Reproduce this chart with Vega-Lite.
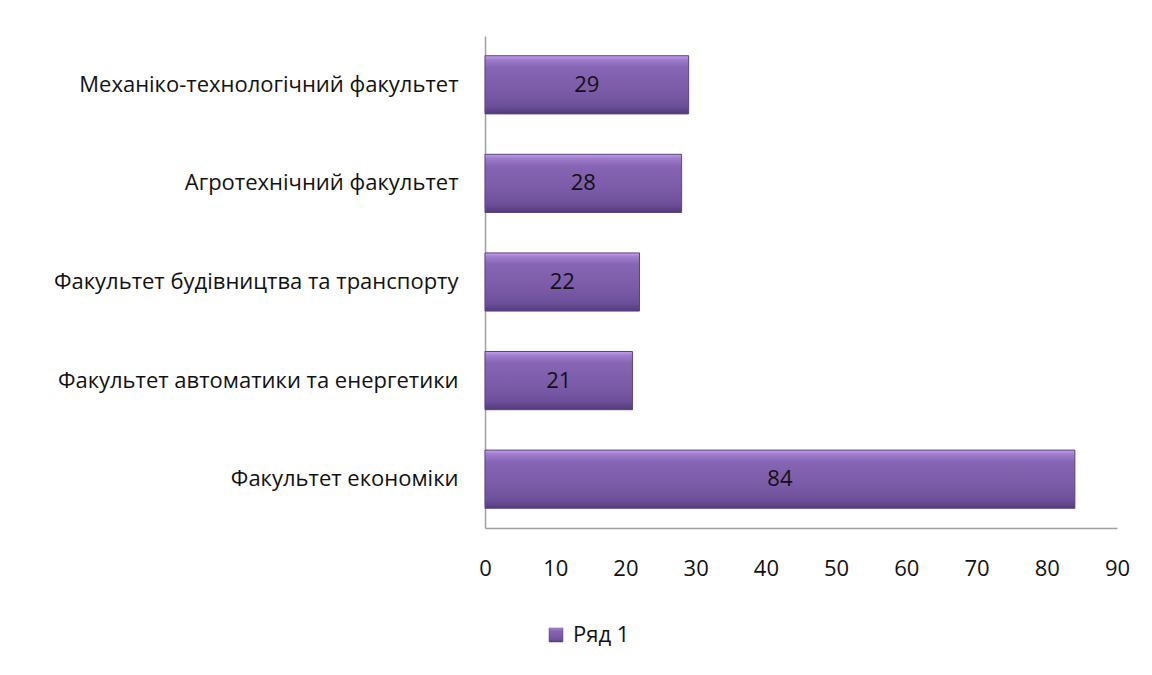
{
  "$schema": "https://vega.github.io/schema/vega-lite/v6.json",
  "autosize": "none",
  "padding": {"left": 485, "top": 36, "right": 35, "bottom": 147},
  "width": 632,
  "height": 492,
  "background": "white",
  "data": {
    "values": [
      {"faculty": "Механіко-технологічний факультет", "value": 29, "series": "Ряд 1"},
      {"faculty": "Агротехнічний факультет", "value": 28, "series": "Ряд 1"},
      {"faculty": "Факультет будівництва та транспорту", "value": 22, "series": "Ряд 1"},
      {"faculty": "Факультет автоматики та енергетики", "value": 21, "series": "Ряд 1"},
      {"faculty": "Факультет економіки", "value": 84, "series": "Ряд 1"}
    ]
  },
  "config": {
    "view": {"stroke": null},
    "font": "Open Sans"
  },
  "encoding": {
    "y": {
      "field": "faculty",
      "type": "nominal",
      "sort": null,
      "scale": {"paddingInner": 0.41, "paddingOuter": 0.2},
      "axis": {
        "title": null,
        "ticks": false,
        "labelFontSize": 22,
        "labelFont": "Open Sans",
        "labelColor": "#111111",
        "labelPadding": 27,
        "labelLimit": 600,
        "domainColor": "#a0a0a0",
        "domainWidth": 1.5
      }
    }
  },
  "layer": [
    {
      "mark": {
        "type": "bar",
        "strokeWidth": 1,
        "fill": {
          "gradient": "linear",
          "x1": 0, "y1": 0, "x2": 0, "y2": 1,
          "stops": [
            {"offset": 0, "color": "#c3a0ec"},
            {"offset": 0.07, "color": "#a07ccd"},
            {"offset": 0.2, "color": "#8665b4"},
            {"offset": 0.6, "color": "#7b5ba8"},
            {"offset": 0.86, "color": "#6c4f99"},
            {"offset": 1, "color": "#533b7c"}
          ]
        }
      },
      "encoding": {
        "x": {
          "field": "value",
          "type": "quantitative",
          "scale": {"domain": [0, 90], "nice": false},
          "axis": {
            "title": null,
            "values": [0, 10, 20, 30, 40, 50, 60, 70, 80, 90],
            "ticks": false,
            "grid": false,
            "labelFontSize": 22,
            "labelFont": "Open Sans",
            "labelColor": "#111111",
            "labelPadding": 30,
            "labelFlush": false,
            "domainColor": "#a0a0a0",
            "domainWidth": 1.5
          }
        },
        "stroke": {
          "field": "series",
          "type": "nominal",
          "scale": {"range": ["#5a4283"]},
          "legend": {
            "title": null,
            "orient": "none",
            "legendX": 60,
            "legendY": 588,
            "symbolType": "square",
            "symbolSize": 196,
            "symbolStrokeWidth": 0.5,
            "labelFontSize": 22,
            "labelFont": "Open Sans",
            "labelColor": "#111111",
            "labelOffset": 6
          }
        }
      }
    },
    {
      "mark": {
        "type": "text",
        "fontSize": 22,
        "font": "Open Sans",
        "color": "#111111",
        "align": "center",
        "baseline": "middle",
        "x": {"expr": "scale('x', datum.value / 2)"}
      },
      "encoding": {
        "text": {"field": "value", "type": "quantitative"}
      }
    }
  ]
}
